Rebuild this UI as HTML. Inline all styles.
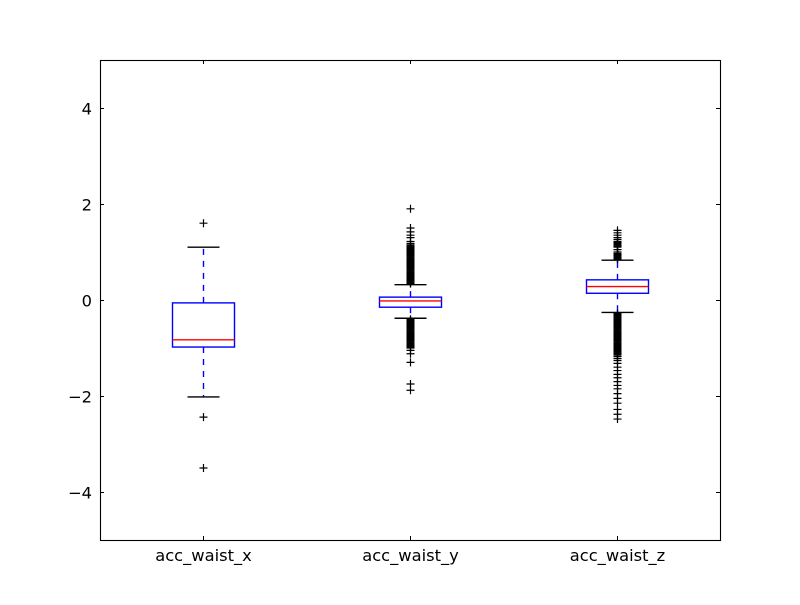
<!DOCTYPE html>
<html><head><meta charset="utf-8"><style>
body{margin:0;background:#fff}
svg text{font-family:"DejaVu Sans","Liberation Sans",sans-serif;font-size:16.3px;fill:#000}
</style></head><body>
<svg id="chart" width="800" height="600" xmlns="http://www.w3.org/2000/svg">
<rect x="0" y="0" width="800" height="600" fill="#fff"/>
<g id="marks"></g>
<rect x="100.5" y="60.5" width="620" height="480" fill="none" stroke="#000" stroke-width="1.1"/>
<g id="axes"></g>
</svg>
<script>
const categories = ["acc_waist_x","acc_waist_y","acc_waist_z"];
const q1 = [-0.98, -0.15, 0.14];
const q3 = [-0.06, 0.06, 0.42];
const medians = [-0.83, -0.02, 0.28];
const whiskLow = [-2.02, -0.38, -0.26];
const whiskHigh = [1.1, 0.32, 0.83];
const fliers = [
  [1.6, -2.44, -3.5],
  [1.9, 1.5, 1.42, 1.35, 1.3, 1.22, 1.18, 1.15, 1.13, 1.12, 1.1, 1.08, 1.07, 1.05, 1.04, 1.02, 1.0, 0.98, 0.97, 0.95, 0.94, 0.92, 0.91, 0.89, 0.88, 0.86, 0.85, 0.83, 0.82, 0.8, 0.79, 0.77, 0.76, 0.74, 0.73, 0.71, 0.7, 0.68, 0.67, 0.65, 0.64, 0.62, 0.61, 0.59, 0.58, 0.56, 0.55, 0.53, 0.52, 0.5, 0.49, 0.47, 0.46, 0.44, 0.43, 0.41, 0.4, 0.38, 0.37, 0.35, 0.34,
   -0.4, -0.42, -0.43, -0.45, -0.46, -0.48, -0.49, -0.51, -0.52, -0.54, -0.55, -0.57, -0.58, -0.6, -0.61, -0.63, -0.64, -0.66, -0.67, -0.69, -0.7, -0.72, -0.73, -0.75, -0.76, -0.78, -0.79, -0.81, -0.82, -0.84, -0.85, -0.87, -0.88, -0.9, -0.92, -0.94, -0.96, -0.98, -1.0, -1.05, -1.12, -1.3, -1.75, -1.88],
  [1.45, 1.4, 1.35, 1.3, 1.26, 1.22, 1.2, 1.18, 1.16, 1.14, 1.12, 1.1, 1.05, 1.0, 0.97, 0.95, 0.94, 0.92, 0.91, 0.89, 0.88, 0.86, 0.85,
   -0.28, -0.3, -0.31, -0.33, -0.34, -0.36, -0.37, -0.39, -0.4, -0.42, -0.43, -0.45, -0.46, -0.48, -0.49, -0.51, -0.52, -0.54, -0.55, -0.57, -0.58, -0.6, -0.61, -0.63, -0.64, -0.66, -0.67, -0.69, -0.7, -0.72, -0.73, -0.75, -0.76, -0.78, -0.79, -0.81, -0.82, -0.84, -0.85, -0.87, -0.88, -0.9, -0.91, -0.93, -0.94, -0.96, -0.97, -0.99, -1.0, -1.02, -1.03, -1.05, -1.06, -1.08, -1.09, -1.11, -1.12, -1.14, -1.15, -1.18, -1.22, -1.26, -1.32, -1.4, -1.47, -1.55, -1.62, -1.7, -1.78, -1.85, -1.95, -2.05, -2.15, -2.28, -2.38, -2.48]
];
const yTicks = [-4, -2, 0, 2, 4];
const yTickLabels = ["\u22124", "\u22122", "0", "2", "4"];

const NS = "http://www.w3.org/2000/svg";
const L = 100, R = 720, T = 60, B = 540, yMin = -5, yMax = 5;
function yScale(v){ return B - (v - yMin) / (yMax - yMin) * (B - T); }
function xScale(i){ return L + (i + 0.5) * (R - L) / categories.length; }
function mk(tag, attrs, parent){ const e = document.createElementNS(NS, tag); for (const k in attrs) e.setAttribute(k, attrs[k]); parent.appendChild(e); return e; }
const marks = document.getElementById("marks");
const axes = document.getElementById("axes");
const bw = 31;
const sw = 1.4;
categories.forEach((c, i) => {
  const x = Math.round(xScale(i)) + 0.5;
  const g = mk("g", {}, marks);
  
  
  const w1 = mk("line", {x1:x, x2:x, y1:yScale(q3[i]), y2:yScale(whiskHigh[i]), stroke:"#0000ff", "stroke-width":sw, "stroke-dasharray":"6,6"}, g);
  
  
  const w2 = mk("line", {x1:x, x2:x, y1:yScale(q1[i]), y2:yScale(whiskLow[i]), stroke:"#0000ff", "stroke-width":sw, "stroke-dasharray":"6,6"}, g);
  
  
  const c1 = mk("line", {x1:x-16, x2:x+16, y1:yScale(whiskHigh[i]), y2:yScale(whiskHigh[i]), stroke:"#000", "stroke-width":sw}, g);
  
  
  const c2 = mk("line", {x1:x-16, x2:x+16, y1:yScale(whiskLow[i]), y2:yScale(whiskLow[i]), stroke:"#000", "stroke-width":sw}, g);
  
  
  const r = mk("rect", {x:x-bw, y:yScale(q3[i]), width:2*bw, height:yScale(q1[i])-yScale(q3[i]), fill:"none", stroke:"#0000ff", "stroke-width":sw}, g);
  
  
  const m = mk("line", {x1:x-bw, x2:x+bw, y1:yScale(medians[i]), y2:yScale(medians[i]), stroke:"#ff0000", "stroke-width":sw}, g);
  
  
  fliers[i].forEach(v => {
    const y = yScale(v);
    const p = mk("path", {d:`M${x-4},${y}H${x+4}M${x},${y-4}V${y+4}`, stroke:"#000", "stroke-width":1.2, fill:"none"}, g);
    
    
  });
  const tb = mk("line", {x1:x, x2:x, y1:B, y2:B-4, stroke:"#000"}, axes);
  
  
  const tt = mk("line", {x1:x, x2:x, y1:T, y2:T+4, stroke:"#000"}, axes);
  
  
  const lbl = mk("text", {x:x, y:B+21, "text-anchor":"middle"}, axes);
  lbl.textContent = c;
  
  
});
yTicks.forEach((v, j) => {
  const y = Math.round(yScale(v)) + 0.5;
  const a = mk("line", {x1:L, x2:L+4, y1:y, y2:y, stroke:"#000"}, axes);
  
  
  const b = mk("line", {x1:R-4, x2:R, y1:y, y2:y, stroke:"#000"}, axes);
  
  
  const t = mk("text", {x:L-8, y:y+6, "text-anchor":"end"}, axes);
  t.textContent = yTickLabels[j];
  
  
});
</script>
</body></html>
